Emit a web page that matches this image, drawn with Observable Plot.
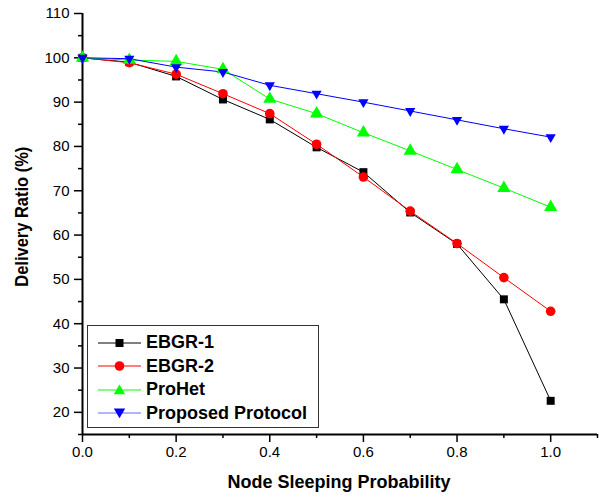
<!DOCTYPE html>
<html>
<head>
<meta charset="utf-8">
<script src="https://cdn.jsdelivr.net/npm/d3@7"></script>
<script src="https://cdn.jsdelivr.net/npm/@observablehq/plot@0.6"></script>
<style>
  html, body { margin: 0; padding: 0; background: #fff; }
  #wrap { position: relative; width: 599px; height: 497px; font-family: "Liberation Sans", Arial, sans-serif; }
  #legend { position: absolute; left: 87px; top: 325px; width: 232px; height: 103px; border: 1px solid #333; background: #fff; box-sizing: border-box; padding-top: 5px; }
  .item { display: flex; align-items: center; height: 23.5px; }
  .item svg { margin-left: 10px; margin-right: 5px; }
  .item span { font-weight: bold; font-size: 18px; color: #000; }
</style>
</head>
<body>
<div id="wrap"></div>
<script>
const probability = [0.0, 0.1, 0.2, 0.3, 0.4, 0.5, 0.6, 0.7, 0.8, 0.9, 1.0];
const ebgr1 = [100, 99, 95.8, 90.6, 86.1, 79.8, 74.2, 65.1, 58, 45.5, 22.6];
const ebgr2 = [100, 98.9, 96.3, 91.9, 87.4, 80.5, 73.1, 65.4, 58.1, 50.4, 42.8];
const prohet = [100, 99.5, 99.2, 97.4, 90.7, 87.4, 83.1, 79, 74.8, 70.6, 66.3];
const proposed = [100, 99.8, 97.9, 96.8, 93.8, 91.9, 90, 88, 86, 84, 82.1];
const seriesNames = ["EBGR-1", "EBGR-2", "ProHet", "Proposed Protocol"];
const xTicks = [0.0, 0.2, 0.4, 0.6, 0.8, 1.0];
const xMinorTicks = [0.1, 0.3, 0.5, 0.7, 0.9, 1.1];
const yTicks = [20, 30, 40, 50, 60, 70, 80, 90, 100, 110];
const yMinorTicks = [15, 25, 35, 45, 55, 65, 75, 85, 95, 105];
const xTitle = "Node Sleeping Probability";
const yTitle = "Delivery Ratio (%)";

const colors = {"EBGR-1": "#000000", "EBGR-2": "#ff0000", "ProHet": "#00ff00", "Proposed Protocol": "#0000ff"};
const symbols = {"EBGR-1": "square", "EBGR-2": "circle", "ProHet": "triangle"};
const radii = {"EBGR-1": 4.5, "EBGR-2": 4.8, "ProHet": 4.9, "Proposed Protocol": 3.8};

const triangleDown = {
  draw(context, size) {
    const y = -Math.sqrt(size / (Math.sqrt(3) * 3));
    context.moveTo(0, -y * 2);
    context.lineTo(-Math.sqrt(3) * y, y);
    context.lineTo(Math.sqrt(3) * y, y);
    context.closePath();
  }
};

const allSeries = [ebgr1, ebgr2, prohet, proposed];
const data = [];
seriesNames.forEach((name, i) => {
  probability.forEach((p, j) => data.push({series: name, p, v: allSeries[i][j]}));
});

const font = "Liberation Sans, Arial, sans-serif";

const chart = Plot.plot({
  width: 599,
  height: 497,
  marginLeft: 82,
  marginRight: 2,
  marginTop: 13,
  marginBottom: 63,
  style: {fontFamily: font, fontSize: "15px", color: "#000", background: "#fff"},
  x: {domain: [0, 1.1], label: null},
  y: {domain: [15, 110], label: null},
  marks: [
    Plot.axisX({ticks: xMinorTicks, tickSize: 4, tickFormat: () => "", strokeWidth: 1.5, label: null}),
    Plot.axisX({ticks: xTicks, tickSize: 8, tickPadding: 4, tickFormat: d3.format(".1f"), strokeWidth: 1.5, fontSize: 15, label: null}),
    Plot.axisY({ticks: yMinorTicks, tickSize: 4, tickFormat: () => "", strokeWidth: 1.5, label: null}),
    Plot.axisY({ticks: yTicks, tickSize: 8, tickPadding: 5, strokeWidth: 1.5, fontSize: 15, label: null}),
    Plot.ruleX([0], {strokeWidth: 2}),
    Plot.ruleY([15], {strokeWidth: 2}),
    ...seriesNames.map(name => Plot.line(data.filter(d => d.series === name), {x: "p", y: "v", stroke: colors[name], strokeWidth: 1})),
    ...seriesNames.map(name => Plot.dot(data.filter(d => d.series === name), {
      x: "p", y: "v", fill: colors[name], stroke: "none",
      symbol: name === "Proposed Protocol" ? triangleDown : symbols[name], r: radii[name]
    }))
  ]
});

// axis titles
const ns = "http://www.w3.org/2000/svg";
const xt = document.createElementNS(ns, "text");
xt.setAttribute("x", 339);
xt.setAttribute("y", 488);
xt.setAttribute("text-anchor", "middle");
xt.setAttribute("font-weight", "bold");
xt.setAttribute("font-size", "18");
xt.setAttribute("fill", "#000");
xt.textContent = xTitle;
chart.appendChild(xt);

const yt = document.createElementNS(ns, "text");
yt.setAttribute("transform", "translate(28,216.7) rotate(-90)");
yt.setAttribute("text-anchor", "middle");
yt.setAttribute("font-weight", "bold");
yt.setAttribute("font-size", "18");
yt.setAttribute("textLength", "140");
yt.setAttribute("lengthAdjust", "spacingAndGlyphs");
yt.setAttribute("fill", "#000");
yt.textContent = yTitle;
chart.appendChild(yt);

const wrap = document.getElementById("wrap");
wrap.appendChild(chart);

// legend
const legend = document.createElement("div");
legend.id = "legend";
const markerSvg = {
  "EBGR-1": '<rect x="17.5" y="4" width="8" height="8" fill="#000"/>',
  "EBGR-2": '<circle cx="21.5" cy="8" r="4.8" fill="#ff0000"/>',
  "ProHet": '<path d="M21.5 2.5 L27.2 12.3 L15.8 12.3 Z" fill="#00ff00"/>',
  "Proposed Protocol": '<path d="M15.8 3.5 L27.2 3.5 L21.5 13.3 Z" fill="#0000ff"/>'
};
const lineCols = {"EBGR-1": "#000", "EBGR-2": "#ff0000", "ProHet": "#00ff00", "Proposed Protocol": "#6666ff"};
seriesNames.forEach(name => {
  const item = document.createElement("div");
  item.className = "item";
  item.innerHTML = `<svg width="43" height="16"><line x1="0" x2="43" y1="8" y2="8" stroke="${lineCols[name]}" stroke-width="1"/>${markerSvg[name]}</svg><span>${name}</span>`;
  legend.appendChild(item);
});
wrap.appendChild(legend);
</script>
</body>
</html>
